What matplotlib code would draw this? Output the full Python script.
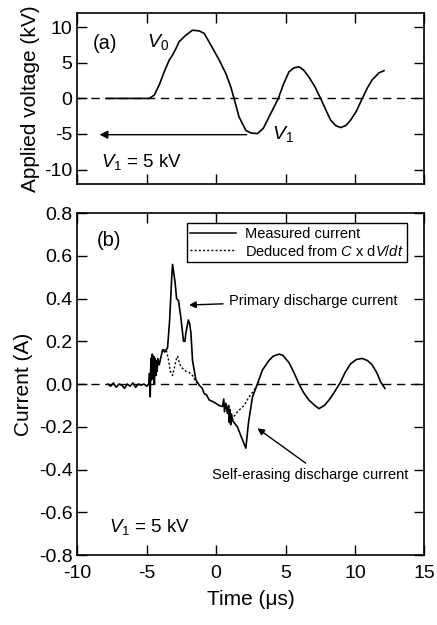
import numpy as np
import matplotlib
matplotlib.use("Agg")
import matplotlib.pyplot as plt
from matplotlib.lines import Line2D

plt.rcParams['font.family'] = ['Liberation Sans', 'DejaVu Sans']
plt.rcParams['mathtext.fontset'] = 'custom'
plt.rcParams['mathtext.rm'] = 'Liberation Sans'
plt.rcParams['mathtext.it'] = 'Liberation Sans:italic'
plt.rcParams['axes.unicode_minus'] = False

# (a) applied voltage, kV
t_volt = [-7.9, -4.82, -4.46, -4.1, -3.74, -3.38, -3.14, -2.9, -2.66, -2.18, -1.7,
          -1.22, -0.86, -0.38, 0.22, 0.7, 1.06, 1.29, 1.65, 2.14, 2.5, 2.97, 3.4,
          3.81, 4.48, 4.85, 5.25, 5.6, 5.97, 6.3, 6.69, 7.1, 7.53, 7.9, 8.25, 8.6,
          8.97, 9.35, 9.69, 10.1, 10.53, 10.9, 11.24, 11.73, 12.09]
volt = [0, 0, 0.47, 1.9, 3.75, 5.4, 6.1, 7.0, 8.0, 8.9, 9.6,
        9.5, 9.15, 7.5, 5.4, 3.5, 1.6, 0, -2.6, -4.5, -4.85, -4.95, -4.2,
        -2.6, 0, 2.0, 3.75, 4.3, 4.45, 4.0, 3.0, 1.7, 0, -1.6, -3.05, -3.8,
        -4.1, -3.8, -3.05, -1.8, 0, 1.5, 2.6, 3.6, 3.9]

# (b) measured current, A
t_meas = [-7.8, -7.6, -7.4, -7.2, -7.0, -6.8, -6.6, -6.4, -6.2, -6.0, -5.8, -5.6,
          -5.4, -5.2, -5.0, -4.85, -4.8, -4.75, -4.7, -4.65, -4.6, -4.55, -4.5,
          -4.45, -4.4, -4.35, -4.3, -4.25, -4.2, -4.1, -4.0, -3.86, -3.7, -3.5,
          -3.35, -3.2, -3.14, -3.05, -2.95, -2.85, -2.71, -2.54, -2.35, -2.25,
          -2.18, -2.0, -1.9, -1.82, -1.7, -1.46, -1.22, -1.0, -0.86, -0.7, -0.5,
          -0.3, -0.02, 0.2, 0.45, 0.55, 0.6, 0.7, 0.81, 0.9, 0.95, 1.0, 1.05, 1.1,
          1.17, 1.53, 1.89, 2.14, 2.33, 2.62, 2.97, 3.33, 3.8, 4.1, 4.53, 4.8,
          5.25, 5.6, 5.97, 6.3, 6.69, 7.1, 7.41, 7.8, 8.13, 8.5, 8.97, 9.3, 9.69,
          10.1, 10.53, 10.9, 11.24, 11.6, 11.85, 12.16]
i_meas = [0, -0.01, 0.005, -0.015, 0, -0.005, -0.02, 0, -0.01, 0.005, -0.015, 0,
          -0.005, 0, -0.01, 0, 0.05, -0.06, 0.12, 0.02, 0.14, 0.03, 0.13,
          0.0, 0.12, 0.04, 0.11, 0.06, 0.12, 0.09, 0.12, 0.16, 0.15, 0.17,
          0.3, 0.5, 0.56, 0.52, 0.47, 0.4, 0.39, 0.31, 0.2, 0.2,
          0.24, 0.30, 0.28, 0.24, 0.11, 0.02, -0.005, -0.02, -0.045, -0.05, -0.075,
          -0.08, -0.09, -0.1, -0.105, -0.07, -0.13, -0.09, -0.137, -0.1, -0.18, -0.12, -0.19, -0.14,
          -0.17, -0.2, -0.26, -0.30, -0.18, -0.06, 0.0, 0.065, 0.11, 0.13, 0.14, 0.135,
          0.10, 0.055, 0.0, -0.04, -0.075, -0.1, -0.115, -0.1, -0.075, -0.04, 0.01, 0.055, 0.095,
          0.115, 0.12, 0.11, 0.09, 0.05, 0.01, -0.02]

# (b) current deduced from C x dV/dt, A (where it departs from the measured trace)
t_ded1 = [-3.86, -3.6, -3.45, -3.3, -3.14, -3.0, -2.85, -2.78, -2.65, -2.54,
          -2.35, -2.18, -1.95, -1.7, -1.46, -1.3]
i_ded1 = [0.16, 0.16, 0.12, 0.06, 0.04, 0.08, 0.12, 0.13, 0.1, 0.08,
          0.07, 0.06, 0.055, 0.04, 0.01, 0.0]
t_ded2 = [1.17, 1.3, 1.53, 2.01, 2.37, 2.73, 3.09]
i_ded2 = [-0.17, -0.15, -0.13, -0.1, -0.06, -0.03, 0.01]

cur_ticks = np.round(np.arange(-0.8, 0.81, 0.2), 1) + 0.0

fig = plt.figure(figsize=(4.37, 6.25), dpi=100)
ax1 = fig.add_axes([0.177, 0.706, 0.794, 0.273])
ax2 = fig.add_axes([0.177, 0.112, 0.794, 0.547])

for ax in (ax1, ax2):
    ax.set_xlim(-10, 15)
    ax.set_xticks([-10, -5, 0, 5, 10, 15])
    ax.tick_params(direction='in', top=True, right=True, length=7, width=1,
                   labelsize=14)
    ax.tick_params(axis='y', pad=3.5)
    ax.tick_params(axis='x', pad=7)
    ax.axhline(0, color='black', lw=1, dashes=(6, 4))
    for s in ax.spines.values():
        s.set_linewidth(1.2)

# (a)
ax1.plot(t_volt, volt, color='black', lw=1.2)
ax1.set_ylim(-12, 12)
ax1.set_yticks([-10, -5, 0, 5, 10])
ax1.tick_params(labelbottom=False)
ax1.set_ylabel("Applied voltage (kV)", fontsize=15)
ax1.yaxis.set_label_coords(-0.107, 0.5)
ax1.text(-8.92, 7.7, "(a)", fontsize=14.5, va='center', ha='left')
ax1.text(-5.0, 8.0, "$V_0$", fontsize=14, va='center', ha='left')
ax1.text(4.0, -5.0, "$V_1$", fontsize=14, va='center', ha='left')
ax1.text(-8.27, -9.0, "$V_1$ = 5 kV", fontsize=13.5, va='center', ha='left')
ax1.annotate("", xy=(-8.4, -5.1), xytext=(2.2, -5.1),
             arrowprops=dict(arrowstyle='-|>', color='black', lw=1,
                             mutation_scale=12, shrinkA=0, shrinkB=0))

# (b)
ax2.plot(t_meas, i_meas, color='black', lw=1.2)
ax2.plot(t_ded1, i_ded1, color='black', lw=1, ls=(0, (1.5, 1.5)))
ax2.plot(t_ded2, i_ded2, color='black', lw=1, ls=(0, (1.5, 1.5)))
ax2.set_ylim(-0.8, 0.8)
ax2.set_yticks(cur_ticks)
ax2.set_yticklabels([f"{v:.1f}" for v in cur_ticks])
ax2.set_ylabel("Current (A)", fontsize=15)
ax2.yaxis.set_label_coords(-0.128, 0.5)
ax2.set_xlabel("Time (\u03bcs)", fontsize=15, labelpad=6)
ax2.text(-8.63, 0.67, "(b)", fontsize=14.5, va='center', ha='left')
ax2.text(-7.7, -0.668, "$V_1$ = 5 kV", fontsize=13.5, va='center', ha='left')
ax2.annotate("Primary discharge current", xy=(-1.95, 0.37), xytext=(0.9, 0.39),
             fontsize=10.5, va='center', ha='left',
             arrowprops=dict(arrowstyle='-|>', color='black', lw=1,
                             mutation_scale=10, shrinkA=2, shrinkB=0))
ax2.annotate("", xy=(2.97, -0.207), xytext=(6.45, -0.37),
             arrowprops=dict(arrowstyle='-|>', color='black', lw=1,
                             mutation_scale=10, shrinkA=0, shrinkB=0))
ax2.text(-0.29, -0.425, "Self-erasing discharge current", fontsize=10.5,
         va='center', ha='left')

handles = [Line2D([], [], color='black', lw=1.1),
           Line2D([], [], color='black', lw=1, ls=(0, (1.5, 1.5)))]
leg = ax2.legend(handles, ["Measured current", "Deduced from $C$ x d$V$/$dt$"],
                 loc='upper right', bbox_to_anchor=(0.951, 0.971), fontsize=10.5,
                 frameon=True, fancybox=False, edgecolor='black', framealpha=1,
                 handlelength=3.1, borderpad=0.25, labelspacing=0.2,
                 handletextpad=0.65, borderaxespad=0)
leg.get_frame().set_linewidth(1)

fig.savefig("out.png", dpi=100)
